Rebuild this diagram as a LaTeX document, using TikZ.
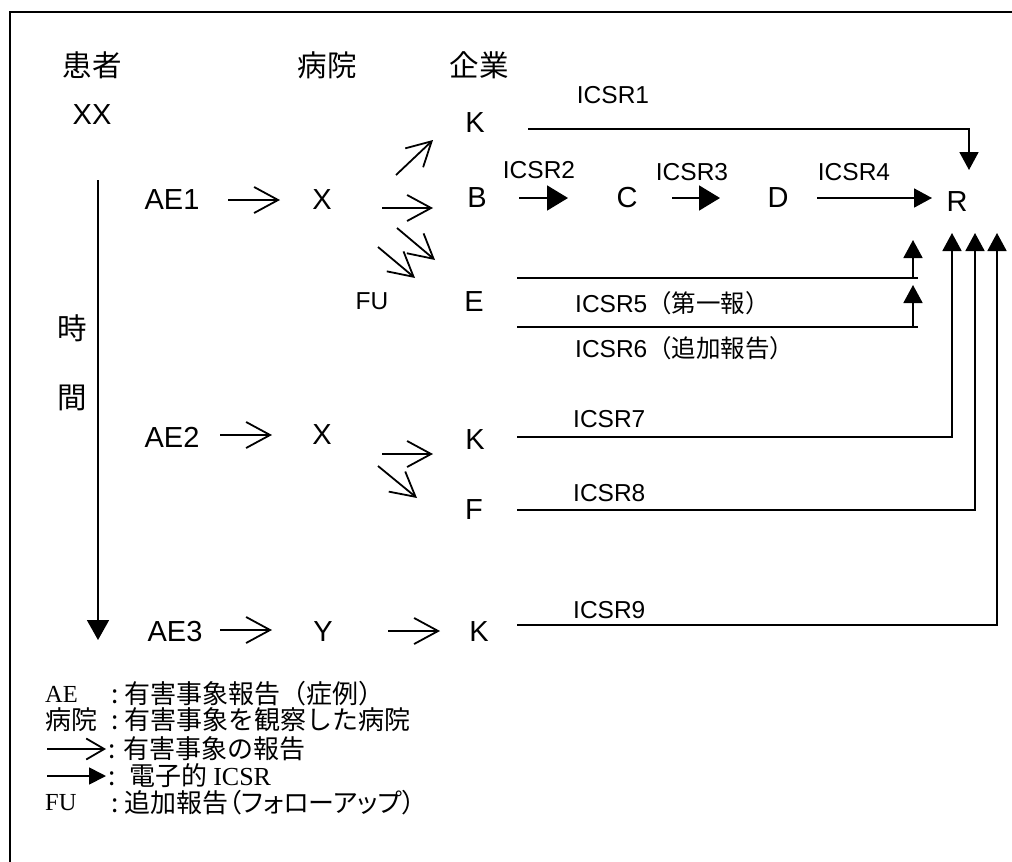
\documentclass[tikz,border=0pt]{standalone}
\usepackage{fontspec}
\setmainfont{Liberation Sans}
\newfontfamily\jp{Noto Sans CJK JP}
\newfontfamily\jpp[RawFeature=+palt]{Noto Sans CJK JP}
\newfontfamily\tms{Liberation Serif}
\usetikzlibrary{arrows.meta,calc}
\tikzset{
  lbl/.style={inner sep=0pt, font=\fontsize{29}{34}\selectfont},
  jlbl/.style={inner sep=0pt, font=\jp\fontsize{29.5}{34}\selectfont},
  icsr/.style={inner sep=0pt, anchor=west, font=\fontsize{24.5}{29}\selectfont},
  leg/.style={inner sep=0pt, anchor=west, font=\jp\fontsize{26}{29}\selectfont},
  legp/.style={inner sep=0pt, anchor=west, font=\jpp\fontsize{26}{29}\selectfont},
  legl/.style={inner sep=0pt, anchor=west, font=\tms\fontsize{24.5}{29}\selectfont},
  rep/.style={line width=1.8pt, -{Straight Barb[length=24pt,width=26pt,line width=1.8pt]}},
  reps/.style={line width=1.8pt, -{Straight Barb[length=18pt,width=21pt,line width=1.8pt]}},
  ecs/.style={line width=1.8pt, -{Triangle[length=21pt,width=25pt]}},
  ecsl/.style={line width=1.8pt, -{Triangle[length=18pt,width=19pt]}},
  wire/.style={line width=1.8pt},
}
\begin{document}
\begin{tikzpicture}[x=1pt,y=-1pt]
\useasboundingbox (0,0) rectangle (1012,862);
% frame
\draw[wire] (10,862) -- (10,12) -- (1012,12);

% headers
\node[jlbl] (h1) at (92,65) {患者};
\node[jlbl] (h2) at (327,65) {病院};
\node[jlbl] (h3) at (479,65) {企業};
\node[lbl] (xx) at (92,115) {XX};

% time axis
\node[jlbl] (t1) at (72,328) {時};
\node[jlbl] (t2) at (72,398) {間};
\coordinate (ts) at (98,180);
\coordinate (te) at (98,640);
\draw[line width=1.8pt, -{Triangle[length=20pt,width=22pt]}] (ts) -- (te);

% row 1
\node[lbl] (ae1) at (172,200) {AE1};
\node[lbl] (x1) at (322,200) {X};
\node[lbl] (k1) at (475,123) {K};
\node[lbl] (b) at (477,198) {B};
\node[lbl] (c) at (627,198) {C};
\node[lbl] (d) at (778,198) {D};
\node[lbl] (r) at (957,202) {R};
\node[lbl] (e) at (474,302) {E};
\node[lbl, font=\fontsize{24.5}{29}\selectfont] (fu) at (372,301) {FU};

% row 2
\node[lbl] (ae2) at (172,437) {AE2};
\node[lbl] (x2) at (322,435) {X};
\node[lbl] (k2) at (475,440) {K};
\node[lbl] (f) at (474,510) {F};

% row 3
\node[lbl] (ae3) at (175,632) {AE3};
\node[lbl] (y3) at (323,632) {Y};
\node[lbl] (k3) at (479,632) {K};

% ICSR labels
\node[icsr, anchor=center] (i1) at (613,95) {ICSR1};
\node[icsr, anchor=center] (i2) at (539,170) {ICSR2};
\node[icsr, anchor=center] (i3) at (692,172) {ICSR3};
\node[icsr, anchor=center] (i4) at (854,172) {ICSR4};
\node[icsr] (i5) at (575,303) {ICSR5{\jp（第一報）}};
\node[icsr] (i6) at (575,348) {ICSR6{\jp（追加報告）}};
\node[icsr] (i7) at (573,419) {ICSR7};
\node[icsr] (i8) at (573,493) {ICSR8};
\node[icsr] (i9) at (573,610) {ICSR9};

% report arrows (open)
\draw[rep] ($(ae1)+(56,0)$) -- ($(x1)+(-42,0)$);
\draw[rep] ($(x1)+(74,-25)$) -- ($(k1)+(-42,17)$);
\draw[rep] ($(x1)+(60,8)$) -- ($(b)+(-44,10)$);
\draw[rep] ($(x1)+(75,28)$) -- ($(e)+(-39,-42)$);
\draw[rep] ($(x1)+(56,47)$) -- ($(e)+(-59,-24)$);
\draw[rep] ($(ae2)+(48,-2)$) -- ($(x2)+(-50,0)$);
\draw[rep] ($(x2)+(60,19)$) -- ($(k2)+(-42,14)$);
\draw[rep] ($(x2)+(56,31)$) -- ($(f)+(-57,-12)$);
\draw[rep] ($(ae3)+(45,-2)$) -- ($(y3)+(-51,-2)$);
\draw[rep] ($(y3)+(65,-1)$) -- ($(k3)+(-39,-1)$);

% electronic ICSR arrows
\draw[ecs] ($(b)+(42,0)$) -- ($(c)+(-59,0)$);
\draw[ecs] ($(c)+(45,0)$) -- ($(d)+(-58,0)$);
\draw[ecsl] ($(d)+(39,0)$) -- ($(r)+(-25,-4)$);
\draw[ecsl] ($(k1)+(53,6)$) -| ($(r)+(12,-32)$);
\draw[wire] ($(e)+(43,-24)$) -- ($(r)+(-39,76)$);
\draw[ecsl] ($(e)+(43,-24)$) -| ($(r)+(-44,38)$);
\draw[wire] ($(e)+(43,25)$) -- ($(r)+(-39,125)$);
\draw[ecsl] ($(e)+(43,25)$) -| ($(r)+(-44,83)$);
\draw[ecsl] ($(k2)+(42,-3)$) -| ($(r)+(-5,31)$);
\draw[ecsl] ($(f)+(43,0)$) -| ($(r)+(18,31)$);
\draw[ecsl] ($(k3)+(38,-7)$) -| ($(r)+(40,31)$);

% legend
\node[legl] (la) at (45,694) {AE};
\node[leg] (lat) at (111,694) {:\kern6pt有害事象報告（症例）};
\node[leg] (lb) at (45,720) {病院};
\node[leg] (lbt) at (111,720) {:\kern6pt有害事象を観察した病院};
\coordinate (lc0) at (47,749);
\coordinate (lc1) at (106,749);
\draw[reps] (lc0) -- (lc1);
\node[leg] (lct) at (108,749) {:\kern8pt有害事象の報告};
\coordinate (ld0) at (47,776);
\coordinate (ld1) at (106,776);
\draw[line width=1.8pt, -{Triangle[length=17pt,width=17pt]}] (ld0) -- (ld1);
\node[leg] (ldt) at (108,776) {:\kern14pt電子的 {\tms ICSR}};
\node[legl] (le) at (45,803) {FU};
\node[legp] (let) at (111,803) {:\kern6pt追加報告（フォローアップ）};
\end{tikzpicture}
\end{document}
